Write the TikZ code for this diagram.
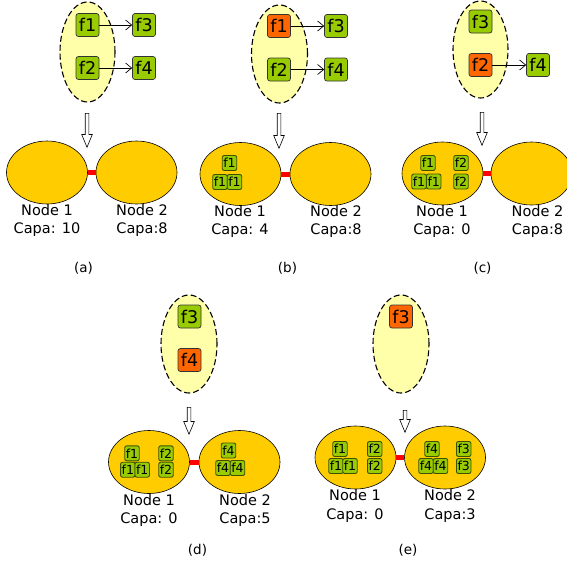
\documentclass[tikz,border=0pt]{standalone}
\usepackage{fontspec}
\setmainfont{DejaVu Sans}
\usetikzlibrary{shapes.geometric,shapes.arrows,arrows.meta}
\definecolor{clusterfill}{HTML}{FFFFAA}
\definecolor{hostfill}{HTML}{FFCC00}
\definecolor{vmgreen}{HTML}{99CC00}
\definecolor{vmorange}{HTML}{FF6600}
\definecolor{sboxdraw}{HTML}{3C5000}
\tikzset{
  cluster/.style={ellipse, draw, fill=clusterfill, line width=1.1pt, dash pattern=on 6pt off 3pt, inner sep=0pt},
  fbox/.style={draw=black!80, fill=vmgreen, rounded corners=2.5pt, minimum size=23pt, inner sep=0pt, line width=0.7pt, font=\fontsize{17.5}{18}\selectfont},
  fcur/.style={fbox, fill=vmorange},
  sbox/.style={draw=sboxdraw, fill=vmgreen, rounded corners=2pt, minimum width=14.5pt, minimum height=15pt, inner sep=0pt, line width=0.9pt, font=\fontsize{12.5}{13}\selectfont},
  host/.style={ellipse, draw, fill=hostfill, minimum width=81pt, minimum height=63pt, inner sep=0pt, line width=0.6pt},
  link/.style={red, line width=5pt},
  flow/.style={line width=0.7pt, -{Straight Barb[length=6pt,width=10pt]}},
  hollow/.style={single arrow, draw, fill=white, line width=0.6pt, inner xsep=0pt, inner ysep=1.5pt, single arrow head extend=3.5pt, single arrow tip angle=45, single arrow head indent=0pt, rotate=-90, anchor=tail},
  lbl/.style={font=\fontsize{14.5}{16}\selectfont, anchor=base, inner sep=0pt},
  captext/.style={font=\fontsize{13.5}{15}\selectfont, anchor=base, inner sep=0pt}
}
\begin{document}
\begin{tikzpicture}[x=1pt,y=-1pt]
\useasboundingbox (0,0) rectangle (567,563);
% ---------------- (a)
\node[cluster, minimum width=55pt, minimum height=100pt] (ca) at (87.5,52) {};
\node[fbox] (a1) at (87.5,25) {f1};
\node[fbox] (a2) at (87.5,68) {f2};
\node[fbox] (a3) at (144,25) {f3};
\node[fbox] (a4) at (144,68) {f4};
\draw[flow] (a1) -- (a3);
\draw[flow] (a2) -- (a4);
\node[hollow, minimum height=34pt] (ha) at (87,113) {};
\node[host] (an1) at (47,172.5) {};
\node[host] (an2) at (136.5,172.5) {};
\draw[link] (an1.east) -- (an2.west);
\node[lbl] (al1) at (47,215) {Node 1};
\node[lbl] (al2) at (47,233) {Capa: 10};
\node[lbl] (al3) at (142,215) {Node 2};
\node[lbl] (al4) at (142,233) {Capa:8};
\node[captext] (capa) at (83.5,272.5) {(a)};
% ---------------- (b)
\node[cluster, minimum width=56pt, minimum height=98pt] (cb) at (279.5,54) {};
\node[fcur] (b1) at (279,26) {f1};
\node[fbox] (b2) at (279,69.5) {f2};
\node[fbox] (b3) at (336,26) {f3};
\node[fbox] (b4) at (336,69.5) {f4};
\draw[flow] (b1) -- (b3);
\draw[flow] (b2) -- (b4);
\node[hollow, minimum height=35pt] (hb) at (279,113) {};
\node[host] (bn1) at (240.5,174) {};
\node[host] (bn2) at (330.5,174) {};
\draw[link] (bn1.east) -- (bn2.west);
\node[sbox] (bs1) at (229.5,163) {f1};
\node[sbox] (bs2) at (220,182) {f1};
\node[sbox] (bs3) at (234.5,182) {f1};
\node[lbl] (bl1) at (240,216) {Node 1};
\node[lbl] (bl2) at (240,234.5) {Capa: 4};
\node[lbl] (bl3) at (336,216) {Node 2};
\node[lbl] (bl4) at (336,234.5) {Capa:8};
\node[captext] (capb) at (287.5,272.5) {(b)};
% ---------------- (c)
\node[cluster, minimum width=55pt, minimum height=97pt] (cc) at (480.5,49.5) {};
\node[fbox] (c3) at (480.5,21.5) {f3};
\node[fcur] (c2) at (480.5,65) {f2};
\node[fbox] (c4) at (538,65) {f4};
\draw[flow] (c2) -- (c4);
\node[hollow, minimum height=33pt] (hc) at (482,112) {};
\node[host] (cn1) at (442.5,173.5) {};
\node[host] (cn2) at (531.5,173.5) {};
\draw[link] (cn1.east) -- (cn2.west);
\node[sbox] (cs1) at (428,163) {f1};
\node[sbox] (cs2) at (419,181.5) {f1};
\node[sbox] (cs3) at (433.7,181.5) {f1};
\node[sbox] (cs4) at (461,163) {f2};
\node[sbox] (cs5) at (461,181.5) {f2};
\node[lbl] (cl1) at (442,216) {Node 1};
\node[lbl] (cl2) at (442,234.5) {Capa: 0};
\node[lbl] (cl3) at (537.5,216) {Node 2};
\node[lbl] (cl4) at (537.5,234.5) {Capa:8};
\node[captext] (capc) at (482.5,272.5) {(c)};
% ---------------- (d)
\node[cluster, minimum width=56pt, minimum height=98pt] (cd) at (189,344) {};
\node[fbox] (d3) at (189.5,316.5) {f3};
\node[fcur] (d4) at (189.5,360) {f4};
\node[hollow, minimum height=27pt] (hd) at (189,407) {};
\node[host] (dn1) at (149,462) {};
\node[host] (dn2) at (239.5,462) {};
\draw[link] (dn1.east) -- (dn2.west);
\node[sbox] (ds1) at (132,453.3) {f1};
\node[sbox] (ds2) at (127.8,469.7) {f1};
\node[sbox] (ds3) at (142.2,469.7) {f1};
\node[sbox] (ds4) at (166,453.3) {f2};
\node[sbox] (ds5) at (166,469.7) {f2};
\node[sbox] (ds6) at (228.5,450.5) {f4};
\node[sbox] (ds7) at (223,468) {f4};
\node[sbox] (ds8) at (237.5,468) {f4};
\node[lbl] (dl1) at (149,505) {Node 1};
\node[lbl] (dl2) at (149,523) {Capa: 0};
\node[lbl] (dl3) at (245,505) {Node 2};
\node[lbl] (dl4) at (245,523) {Capa:5};
\node[captext] (capd) at (197.5,554.5) {(d)};
% ---------------- (e)
\node[cluster, minimum width=56pt, minimum height=98pt] (ce) at (401,344) {};
\node[fcur] (e3) at (401,316.5) {f3};
\node[hollow, minimum height=22pt] (he) at (405,410) {};
\node[host] (en1) at (355.5,457.5) {};
\node[host] (en2) at (445,457.5) {};
\draw[link] (en1.east) -- (en2.west);
\node[sbox] (es1) at (340,449) {f1};
\node[sbox] (es2) at (336,466) {f1};
\node[sbox] (es3) at (350,466) {f1};
\node[sbox] (es4) at (374.7,449) {f2};
\node[sbox] (es5) at (374.7,466) {f2};
\node[sbox] (es6) at (432,449) {f4};
\node[sbox] (es7) at (426,466) {f4};
\node[sbox] (es8) at (440.5,466) {f4};
\node[sbox] (es9) at (463.7,449) {f3};
\node[sbox] (es10) at (463.7,466) {f3};
\node[lbl] (el1) at (355,500.5) {Node 1};
\node[lbl] (el2) at (355,519) {Capa: 0};
\node[lbl] (el3) at (450,500.5) {Node 2};
\node[lbl] (el4) at (450,519) {Capa:3};
\node[captext] (cape) at (408,554.5) {(e)};
\end{tikzpicture}
\end{document}
